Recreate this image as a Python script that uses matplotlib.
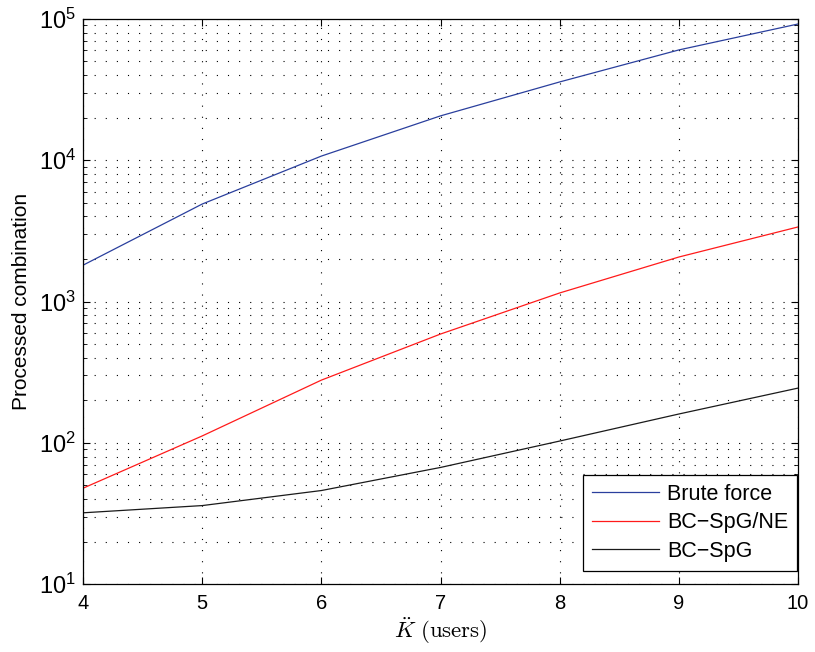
import matplotlib
matplotlib.use("Agg")
import matplotlib.pyplot as plt
from matplotlib.ticker import LogLocator, NullFormatter

plt.rcParams['font.family'] = ['Liberation Sans', 'DejaVu Sans']
plt.rcParams['mathtext.fontset'] = 'cm'

users = [4, 5, 6, 7, 8, 9, 10]
brute_force = [1810, 4900, 10700, 20600, 35800, 60300, 92000]
bc_spg_ne = [47.8, 112, 278, 589, 1150, 2065, 3370]
bc_spg = [32, 36, 46, 67, 103, 160, 244]

fig = plt.figure(figsize=(8.15, 6.52), dpi=100)
ax = fig.add_axes([0.102, 0.104, 0.877, 0.867])

ax.semilogy(users, brute_force, color='#2a3f9d', lw=0.9, label='Brute force')
ax.semilogy(users, bc_spg_ne, color='#ff1a1a', lw=0.9, label='BC\u2212SpG/NE')
ax.semilogy(users, bc_spg, color='#1a1a1a', lw=0.9, label='BC\u2212SpG')

ax.set_xlim(4, 10)
ax.set_ylim(10, 1e5)
ax.set_xticks(users)
ax.yaxis.set_major_locator(LogLocator(base=10, numticks=10))
ax.yaxis.set_minor_locator(LogLocator(base=10, subs=range(2, 10), numticks=10))
ax.yaxis.set_minor_formatter(NullFormatter())

# sparse dotted grid, minor lines only along y
dots = (0, (1, 9))
ax.grid(True, which='major', color='k', ls=dots, lw=0.8)
ax.grid(True, which='minor', axis='y', color='k', ls=dots, lw=0.8)
ax.tick_params(which='both', direction='in', top=True, right=True)
ax.tick_params(axis='x', labelsize=14.5, pad=7)
ax.tick_params(axis='y', labelsize=17, pad=5)
ax.tick_params(which='major', length=5)
ax.tick_params(which='minor', length=3)
for s in ax.spines.values():
    s.set_linewidth(0.9)

ax.set_xlabel(r'$\ddot{K}\ \mathrm{(users)}$', fontsize=16.5, labelpad=2)
ax.set_ylabel('Processed combination', fontsize=15, labelpad=6)

leg = ax.legend(loc='lower right', bbox_to_anchor=(0.999, 0.024), fontsize=15.5,
                fancybox=False, framealpha=1, edgecolor='k', borderaxespad=0,
                handlelength=3.1, handletextpad=0.4, labelspacing=0.35,
                borderpad=0.4)
leg.get_frame().set_linewidth(0.9)

fig.savefig('out.png', dpi=100)
